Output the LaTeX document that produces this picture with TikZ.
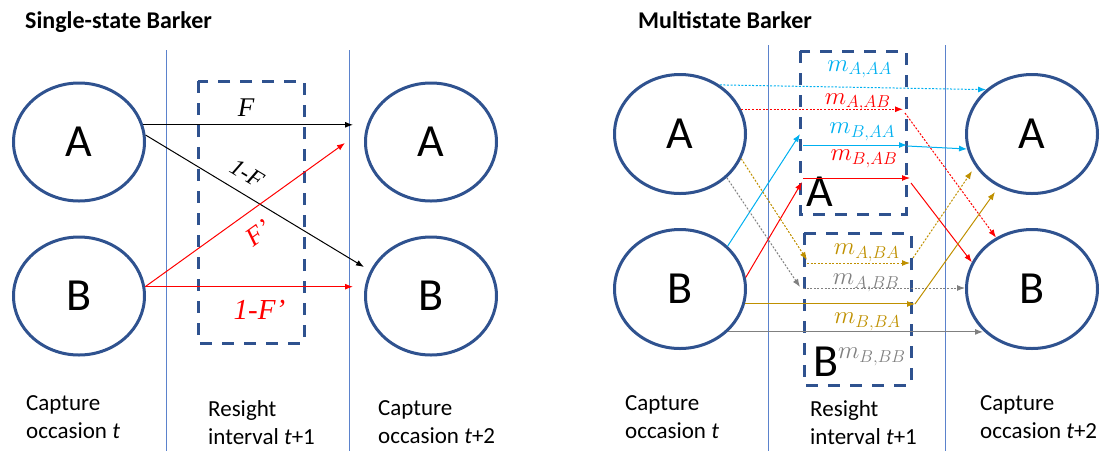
\documentclass[tikz,border=0pt]{standalone}
\usepackage{fontspec}
\setmainfont{Carlito}
\newfontfamily\labelserif{Liberation Serif}
\usetikzlibrary{shapes.geometric,arrows.meta,calc}
\definecolor{navy}{HTML}{2F528F}
\definecolor{vline}{HTML}{5B82CC}
\definecolor{cyanc}{HTML}{00B0F0}
\definecolor{goldc}{HTML}{BF9000}
\definecolor{greyc}{HTML}{808080}
\definecolor{redc}{HTML}{FF0000}
\tikzset{
  statenode/.style={ellipse, draw=navy, line width=3pt, minimum width=131pt, minimum height=118pt,
    inner sep=0pt, font=\fontsize{46}{46}\selectfont},
  divider/.style={draw=vline, line width=1pt},
  resbox/.style={draw=navy, line width=3pt, dash pattern=on 12pt off 10pt},
  arr/.style={line width=1pt, -{Latex[length=8pt,width=6pt]}},
  dots/.style={dash pattern=on 2pt off 1.6pt},
  titletext/.style={font=\fontsize{24}{24}\selectfont\bfseries, anchor=west, inner sep=0pt},
  captext/.style={font=\fontsize{23}{28}\selectfont, align=left, anchor=north west, inner sep=0pt},
  flabel/.style={font=\fontsize{26}{26}\selectfont\labelserif\itshape, inner sep=0pt},
  mlabel/.style={font=\fontsize{24}{24}\selectfont, inner sep=0pt},
  bigletter/.style={font=\fontsize{46}{46}\selectfont, inner sep=0pt}
}
\begin{document}
\begin{tikzpicture}[x=1pt,y=-1pt]
\useasboundingbox (0,0) rectangle (1104,451);

% ---------------- Single-state ----------------
\node[titletext] (t1) at (25,22) {Single-state Barker};
\draw[divider] (166,50) -- (166,451);
\draw[divider] (349,50) -- (349,451);
\draw[resbox] (198,81) rectangle (304,343);

\node[statenode] (LA) at (79,142) {A};
\node[statenode] (LB) at (79,296) {B};
\node[statenode] (RA) at (431,142) {A};
\node[statenode] (RB) at (431,296) {B};

\coordinate (fE) at (353,123);
\coordinate (fpE) at (345,143);
\coordinate (ffpE) at (353,285);
\coordinate (omfE) at (364,267);

\draw[arr] (LA.15) -- node[flabel, pos=0.49, yshift=17pt] (lF) {\fontsize{27}{27}\selectfont F} (LA.15 -| fE);
\draw[arr] (LA.6) -- node[flabel, sloped, pos=0.42, above=11pt] (l1F) {\fontsize{24}{24}\selectfont 1-F} (omfE);
\draw[arr, redc] (LB.8) -- node[flabel, sloped, pos=0.5, below=13pt, text=redc] (lFp) {F’} (fpE);
\draw[arr, redc] (LB.8) -- node[flabel, pos=0.55, yshift=-23pt, text=redc] (l1Fp) {\fontsize{29}{29}\selectfont 1-F’} (LB.8 -| ffpE);

\node[captext] (c1) at (26,395) {Capture\\occasion \textit{t}};
\node[captext] (c2) at (208,400) {Resight\\interval \textit{t}+1};
\node[captext] (c3) at (378,400) {Capture\\occasion \textit{t}+2};

% ---------------- Multistate ----------------
\node[titletext] (t2) at (638,20) {Multistate Barker};
\draw[divider] (768,45) -- (768,451);
\draw[divider] (945,45) -- (945,451);
\draw[resbox] (800,51) rectangle (906,214);
\draw[resbox] (804,233) rectangle (911,385);
\node[bigletter] (boxA) at (820,192) {A};
\node[bigletter] (boxB) at (826,362) {B};

\node[statenode, minimum height=119pt] (MA) at (680,134) {A};
\node[statenode, minimum height=119pt] (MB) at (680,289) {B};
\node[statenode, minimum height=119pt] (NA) at (1032,134) {A};
\node[statenode, minimum height=119pt] (NB) at (1032,289) {B};

% turning points
\coordinate (p2) at (903,110);
\coordinate (p3a) at (800,134);
\coordinate (p3b) at (803,145);
\coordinate (p3c) at (907,145);
\coordinate (p4a) at (802,182);
\coordinate (p4b) at (803,178);
\coordinate (p4c) at (910,178);
\coordinate (p4d) at (911,183);
\coordinate (p5a) at (807,260);
\coordinate (p5b) at (807,263);
\coordinate (p5c) at (910,263);
\coordinate (p5d) at (913,258);
\coordinate (p5e) at (972,171);
\coordinate (p6a) at (800,287);
\coordinate (p6b) at (803,288);
\coordinate (p7a) at (915,304);
\coordinate (p7b) at (995,192);
\coordinate (p8) at (983,332);

% 1: A -> AA (cyan dotted)
\draw[arr, dots, cyanc] (MA.51) -- node[mlabel, pos=0.525, yshift=18pt, text=cyanc] (m1) {$m_{A,AA}$} (NA.136);
% 2: A -> AB (red dotted)
\draw[arr, dots, redc] (MA.22) -- node[mlabel, pos=0.72, yshift=7pt, text=redc] (m2) {$m_{A,AB}$} (MA.22 -| p2);
\draw[arr, dots, redc] ($(p2)+(2,3)$) -- (NB.125);
% 3: B -> AA (cyan solid)
\draw[arr, cyanc] (MB.42) -- (p3a);
\draw[arr, cyanc] (p3b) -- node[mlabel, pos=0.57, yshift=13pt, text=cyanc] (m3) {$m_{B,AA}$} (p3c);
\draw[arr, cyanc] ($(p3c)+(0,1)$) -- (NA.-167);
% 4: B -> AB (red solid)
\draw[arr, redc] (MB.10) -- (p4a);
\draw[arr, redc] (p4b) -- node[mlabel, pos=0.57, yshift=19pt, text=redc] (m4) {$m_{B,AB}$} (p4c);
\draw[arr, redc] (p4d) -- (NB.156);
% 5: A -> BA (gold dotted)
\draw[arr, dots, goldc] (MA.-22) -- (p5a);
\draw[arr, dots, goldc] (p5b) -- node[mlabel, pos=0.58, yshift=10pt, text=goldc] (m5) {$m_{A,BA}$} (p5c);
\draw[arr, dots, goldc] (p5d) -- (p5e);
% 6: A -> BB (grey dotted)
\draw[arr, dots, greyc] (MA.-43) -- (p6a);
\draw[arr, dots, greyc] (p6b) -- node[mlabel, pos=0.39, yshift=5pt, text=greyc] (m6) {$m_{A,BB}$} (p6b -| NB.west);
% 7: B -> BA (gold solid)
\draw[arr, goldc] (MB.-13) -- node[mlabel, pos=0.72, yshift=-18pt, text=goldc] (m7) {$m_{B,BA}$} (MB.-13 -| p7a);
\draw[arr, goldc] (MB.-13 -| p7a) -- (p7b);
% 8: B -> BB (grey solid)
\draw[arr, greyc] (MB.-42) -- node[mlabel, pos=0.565, yshift=-25pt, text=greyc] (m8) {$m_{B,BB}$} (MB.-42 -| p8);

\node[captext] (c4) at (625,395) {Capture\\occasion \textit{t}};
\node[captext] (c5) at (810,400) {Resight\\interval \textit{t}+1};
\node[captext] (c6) at (980,395) {Capture\\occasion \textit{t}+2};
\end{tikzpicture}
\end{document}
